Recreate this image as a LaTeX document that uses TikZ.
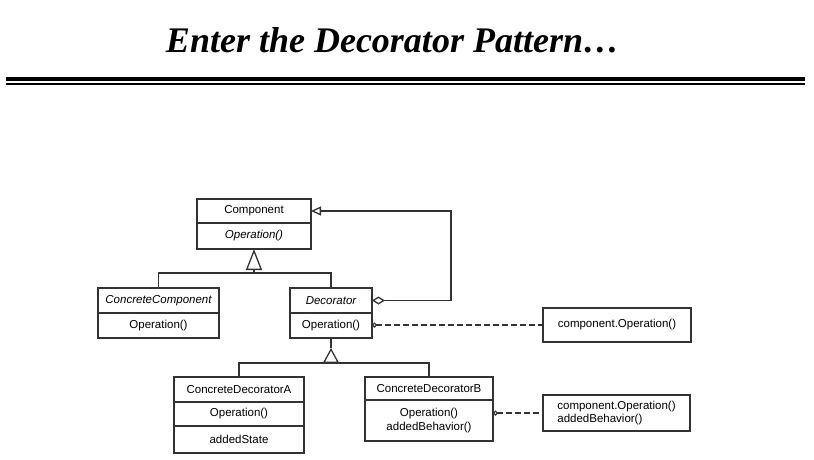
\documentclass[tikz,border=0pt]{standalone}
\usepackage{fontspec}
\setmainfont{Liberation Sans}
\newfontfamily\titlefont{Liberation Serif}
\usepackage{tikz}
\usetikzlibrary{positioning,arrows.meta}
\newcommand{\umlfont}{\fontsize{11.5}{13.5}\selectfont}

\begin{document}
\begin{tikzpicture}[
  x=1pt, y=-1pt,
  font=\umlfont,
  node distance=0pt,
  cls/.style={draw=black!80, line width=1.3pt, minimum width=#1, minimum height=25pt, inner sep=2pt, outer sep=0pt, align=center},
  note/.style={draw=black!80, line width=1.3pt, minimum width=#1, inner sep=2pt, outer sep=0pt, align=left},
  uml/.style={draw=black!80, line width=1.3pt},
  gen/.style={uml, -{Triangle[open, length=#1, width=16pt]}},
  agg/.style={uml, {Diamond[open, length=13pt, width=8pt]}-{Triangle[open, length=10pt, width=9pt]}},
  dep/.style={uml, line width=1.2pt, dash pattern=on 6pt off 3pt, {Circle[open, length=5pt]}-},
]
\useasboundingbox (0,0) rectangle (814,459);

% Title and rule
\node[anchor=base, font=\titlefont\bfseries\itshape\fontsize{36}{40}\selectfont] (title) at (392.5,52) {Enter the Decorator Pattern…};
\coordinate (ruleL) at (6,79);
\coordinate (ruleR) at (805,79);
\draw[line width=4pt] (ruleL) -- (ruleR);
\draw[line width=1.2pt] ([yshift=-5pt]ruleL) -- ([yshift=-5pt]ruleR);

% Component
\node[cls=114pt, minimum height=24pt] (compname) at (254,211) {Component};
\node[cls=114pt, minimum height=26pt, below=of compname] (compop) {\itshape Operation()};

% ConcreteComponent
\node[cls=121pt] (ccname) at (158.5,300.5) {\itshape ConcreteComponent};
\node[cls=121pt, below=of ccname] (ccop) {Operation()};

% Decorator
\node[cls=82pt] (decname) at (331,300.5) {\itshape Decorator};
\node[cls=82pt, below=of decname] (decop) {Operation()};

% ConcreteDecoratorA
\node[cls=130pt] (cdaname) at (239,389.5) {ConcreteDecoratorA};
\node[cls=130pt, minimum height=24pt, below=of cdaname] (cdaop) {Operation()};
\node[cls=130pt, minimum height=27pt, below=of cdaop] (cdastate) {addedState};

% ConcreteDecoratorB
\node[cls=128pt, minimum height=23pt] (cdbname) at (429,388.5) {ConcreteDecoratorB};
\node[cls=128pt, minimum height=41pt, below=of cdbname] (cdbop) {Operation()\\addedBehavior()};

% Notes
\node[note=148pt, minimum height=34pt, align=center] (note1) at (617,325) {component.Operation()};
\node[note=147pt, minimum height=36pt] (note2) at (616.5,413) {component.Operation()\\addedBehavior()};

% Inheritance
\coordinate (barT) at (254,273);
\draw[uml] (ccname.north) |- (barT) -| (decname.north);
\draw[gen=21pt] (barT) -- (compop.south);

\coordinate (barB) at (331,363);
\draw[uml] (cdaname.north) |- (barB) -| (cdbname.north);
\draw[uml] (decop.south) -- ++(0,10) coordinate (tipB);
\draw[gen=15pt] (barB) -- (tipB);

% Aggregation
\draw[agg] (decname.east) -- ++(79,0) |- (compname.east);

% Notes links
\draw[dep] (decop.east |- note1.west) -- (note1.west);
\draw[dep] (cdbop.east |- note2.west) -- (note2.west);

\end{tikzpicture}
\end{document}
